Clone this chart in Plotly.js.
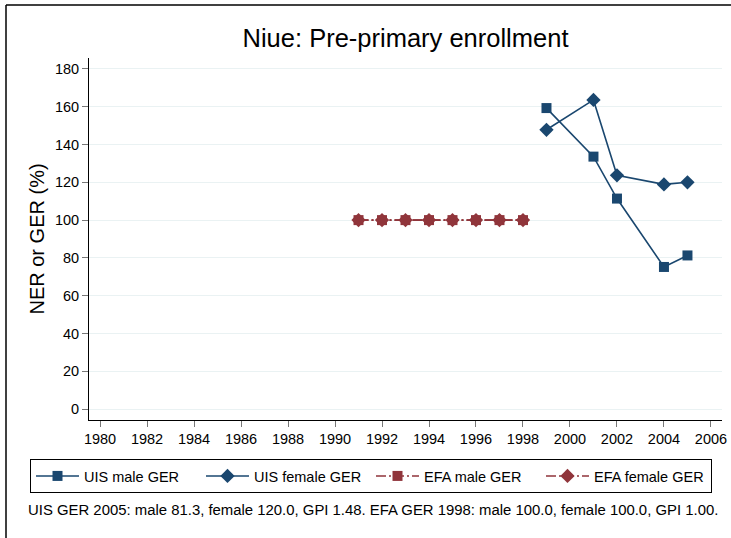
<!DOCTYPE html>
<html>
<head>
<meta charset="utf-8">
<script src="https://cdn.plot.ly/plotly-3.0.1.min.js"></script>
<style>html,body{margin:0;padding:0;background:#fff;}#chart{width:731px;height:538px;}</style>
</head>
<body>
<div id="chart"></div>
<script>
// Data
const uisYears = [1999, 2001, 2002, 2004, 2005];
const uisMale = [159.3, 133.6, 111.4, 75.2, 81.3];
const uisFemale = [147.8, 163.6, 123.7, 118.9, 120.0];
const efaYears = [1991, 1992, 1993, 1994, 1995, 1996, 1997, 1998];
const efaMale = [100, 100, 100, 100, 100, 100, 100, 100];
const efaFemale = [100, 100, 100, 100, 100, 100, 100, 100];
const xTicks = [1980, 1982, 1984, 1986, 1988, 1990, 1992, 1994, 1996, 1998, 2000, 2002, 2004, 2006];
const yTicks = [0, 20, 40, 60, 80, 100, 120, 140, 160, 180];
const seriesNames = ["UIS male GER", "UIS female GER", "EFA male GER", "EFA female GER"];
const titleText = "Niue: Pre-primary enrollment";
const yTitle = "NER or GER (%)";
const noteText = "UIS GER 2005: male 81.3, female 120.0, GPI 1.48. EFA GER 1998: male 100.0, female 100.0, GPI 1.00.";

const BLUE = "#1A476F", RED = "#90353B";
const FONT = "Liberation Sans, Arial, Helvetica, sans-serif";
const efaDash = "10px,3px,2px,3px";

const traces = [
  {x: uisYears, y: uisMale, name: seriesNames[0], mode: "lines+markers",
   line: {color: BLUE, width: 1.6}, marker: {symbol: "square", size: 10, color: BLUE}},
  {x: uisYears, y: uisFemale, name: seriesNames[1], mode: "lines+markers",
   line: {color: BLUE, width: 1.6}, marker: {symbol: "diamond", size: 11, color: BLUE}},
  {x: efaYears, y: efaMale, name: seriesNames[2], mode: "lines+markers",
   line: {color: RED, width: 1.6, dash: efaDash}, marker: {symbol: "square", size: 10, color: RED}},
  {x: efaYears, y: efaFemale, name: seriesNames[3], mode: "lines+markers",
   line: {color: RED, width: 1.6, dash: efaDash}, marker: {symbol: "diamond", size: 11, color: RED}}
];

const L = 89, R = 722, T = 58, B = 420, W = 731, H = 538;
const pw = R - L, ph = B - T;
const px = v => (v - L) / pw;
const py = v => (B - v) / ph;

const layout = {
  width: W, height: H,
  margin: {l: L, r: W - R, t: T, b: H - B, pad: 0},
  paper_bgcolor: "#ffffff", plot_bgcolor: "#ffffff",
  font: {family: FONT, color: "#000", size: 13},
  showlegend: true,
  title: {text: titleText, font: {family: FONT, size: 25.5, color: "#000"},
          xref: "paper", x: 0.5, xanchor: "center", yref: "container", y: 1 - 38 / H, yanchor: "middle"},
  xaxis: {range: [1979.53, 2006.47], tickvals: xTicks, ticktext: xTicks.map(String),
          showgrid: false, zeroline: false, showline: true, linecolor: "#000", linewidth: 1,
          ticks: "outside", ticklen: 6, tickcolor: "#777", tickwidth: 1,
          tickfont: {family: FONT, size: 14.5, color: "#000"}},
  yaxis: {range: [-5.8, 185.8], tickvals: yTicks, ticktext: yTicks.map(String),
          showgrid: true, gridcolor: "#EAF2F3", gridwidth: 1, zeroline: false,
          showline: true, linecolor: "#000", linewidth: 1,
          ticks: "outside", ticklen: 6, tickcolor: "#777", tickwidth: 1,
          tickfont: {family: FONT, size: 14.5, color: "#000"},
          title: {text: yTitle, font: {family: FONT, size: 20, color: "#000"}, standoff: 4}},
  legend: {orientation: "h", x: px(30), y: py(459), xanchor: "left", yanchor: "top",
           bordercolor: "#000", borderwidth: 1, bgcolor: "#fff",
           font: {family: FONT, size: 14.5, color: "#000"},
           entrywidth: 112, entrywidthmode: "pixels", itemwidth: 43, tracegroupgap: 0},
  annotations: [
    {text: noteText, xref: "paper", yref: "paper", x: px(26), y: py(510),
     xanchor: "left", yanchor: "middle", showarrow: false,
     font: {family: FONT, size: 14.9, color: "#000"}}
  ],
  shapes: [
    {type: "line", xref: "paper", yref: "paper", x0: px(6), x1: px(731), y0: py(5), y1: py(5),
     line: {color: "#000", width: 1.5}},
    {type: "line", xref: "paper", yref: "paper", x0: px(6), x1: px(6), y0: py(5), y1: py(538),
     line: {color: "#000", width: 1.5}}
  ]
};

Plotly.newPlot("chart", traces, layout, {displayModeBar: false, staticPlot: true});
</script>
</body>
</html>
